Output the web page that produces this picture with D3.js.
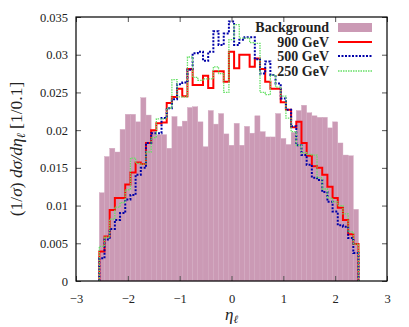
<!DOCTYPE html>
<html>
<head>
<meta charset="utf-8">
<script src="https://d3js.org/d3.v7.min.js"></script>
<style>
  body { margin: 0; background: #fff; }
  text { font-family: "Liberation Serif", "DejaVu Serif", serif; fill: #222; }
  .legend text { font-size: 14px; font-weight: bold; }
</style>
</head>
<body>
<div id="chart"></div>
<script>
// bin centres go from -2.5 to 2.4 in steps of 0.1 (boxes are 0.1 wide)
var binCenters = [
  -2.5, -2.4, -2.3, -2.2, -2.1, -2.0, -1.9, -1.8, -1.7, -1.6,
  -1.5, -1.4, -1.3, -1.2, -1.1, -1.0, -0.9, -0.8, -0.7, -0.6,
  -0.5, -0.4, -0.3, -0.2, -0.1, 0.0, 0.1, 0.2, 0.3, 0.4,
  0.5, 0.6, 0.7, 0.8, 0.9, 1.0, 1.1, 1.2, 1.3, 1.4,
  1.5, 1.6, 1.7, 1.8, 1.9, 2.0, 2.1, 2.2, 2.3, 2.4
];
var background = [
  0.0117, 0.0165, 0.0176, 0.0171, 0.0201, 0.0221, 0.0221, 0.0211, 0.0243, 0.0220,
  0.0200, 0.0194, 0.0194, 0.0176, 0.0218, 0.0205, 0.0212, 0.0230, 0.0231, 0.0211,
  0.0178, 0.0226, 0.0208, 0.0222, 0.0195, 0.0180, 0.0209, 0.0180, 0.0205, 0.0196,
  0.0219, 0.0198, 0.0191, 0.0191, 0.0222, 0.0189, 0.0181, 0.0197, 0.0226, 0.0233,
  0.0223, 0.0219, 0.0217, 0.0217, 0.0203, 0.0211, 0.0183, 0.0167, 0.0166, 0.0095
];
var gev900 = [
  0.0039, 0.0059, 0.0094, 0.0110, 0.0110, 0.0128, 0.0144, 0.0157, 0.0155, 0.0183,
  0.0200, 0.0209, 0.0210, 0.0236, 0.0244, 0.0255, 0.0245, 0.0281, 0.0260, 0.0260,
  0.0272, 0.0256, 0.0278, 0.0278, 0.0264, 0.0304, 0.0282, 0.0300, 0.0300, 0.0284,
  0.0295, 0.0281, 0.0264, 0.0255, 0.0255, 0.0237, 0.0227, 0.0204, 0.0211, 0.0183,
  0.0166, 0.0152, 0.0150, 0.0141, 0.0125, 0.0110, 0.0097, 0.0081, 0.0062, 0.0049
];
var gev500 = [
  0.0030, 0.0055, 0.0069, 0.0081, 0.0090, 0.0108, 0.0114, 0.0141, 0.0150, 0.0183,
  0.0196, 0.0196, 0.0216, 0.0229, 0.0241, 0.0261, 0.0263, 0.0280, 0.0302, 0.0304,
  0.0292, 0.0304, 0.0331, 0.0313, 0.0328, 0.0344, 0.0313, 0.0320, 0.0323, 0.0323,
  0.0294, 0.0275, 0.0291, 0.0273, 0.0262, 0.0242, 0.0227, 0.0205, 0.0180, 0.0167,
  0.0154, 0.0137, 0.0134, 0.0118, 0.0105, 0.0092, 0.0074, 0.0072, 0.0057, 0.0037
];
var gev250 = [
  0.0046, 0.0058, 0.0082, 0.0098, 0.0104, 0.0121, 0.0163, 0.0156, 0.0155, 0.0171,
  0.0190, 0.0215, 0.0215, 0.0229, 0.0267, 0.0244, 0.0244, 0.0297, 0.0270, 0.0266,
  0.0268, 0.0268, 0.0284, 0.0275, 0.0250, 0.0320, 0.0340, 0.0322, 0.0322, 0.0316,
  0.0315, 0.0250, 0.0247, 0.0273, 0.0257, 0.0245, 0.0216, 0.0198, 0.0180, 0.0170,
  0.0168, 0.0167, 0.0137, 0.0122, 0.0110, 0.0105, 0.0100, 0.0089, 0.0065, 0.0049
];
var xTicks = [-3, -2, -1, 0, 1, 2, 3];
var yTicks = [0, 0.005, 0.01, 0.015, 0.02, 0.025, 0.03, 0.035];
var seriesNames = ["Background", "900 GeV", "500 GeV", "250 GeV"];

var width = 409, height = 327;
var margin = { top: 17, right: 22, bottom: 46, left: 76 };
var binWidth = 0.1;

var svg = d3.select('#chart').append('svg')
  .attr('width', width)
  .attr('height', height);

var x = d3.scaleLinear().domain([-3, 3]).range([margin.left, width - margin.right]);
var y = d3.scaleLinear().domain([0, 0.035]).range([height - margin.bottom, margin.top]);

// background boxes
svg.append('g').selectAll('rect')
  .data(binCenters)
  .enter().append('rect')
  .attr('x', function(d) { return x(d - binWidth / 2); })
  .attr('width', function(d) { return x(d + binWidth / 2) - x(d - binWidth / 2); })
  .attr('y', function(d, i) { return y(background[i]); })
  .attr('height', function(d, i) { return y(0) - y(background[i]); })
  .attr('fill', '#cb9ab5')
  .attr('stroke', '#d3a9c0')
  .attr('stroke-width', 0.4);

// histogram step outline
function steps(vals) {
  var pts = [[binCenters[0] - binWidth / 2, 0]];
  binCenters.forEach(function(c, i) {
    pts.push([c - binWidth / 2, vals[i]]);
    pts.push([c + binWidth / 2, vals[i]]);
  });
  pts.push([binCenters[binCenters.length - 1] + binWidth / 2, 0]);
  return pts;
}
var line = d3.line()
  .x(function(d) { return x(d[0]); })
  .y(function(d) { return y(d[1]); });

var lines = [
  { vals: gev900, color: '#ff0000', width: 2, dash: null },
  { vals: gev500, color: '#0000a8', width: 2, dash: '2,1.5' },
  { vals: gev250, color: '#66e066', width: 1.3, dash: '1.5,1' }
];
lines.forEach(function(s) {
  svg.append('path')
    .attr('d', line(steps(s.vals)))
    .attr('fill', 'none')
    .attr('stroke', s.color)
    .attr('stroke-width', s.width)
    .attr('stroke-dasharray', s.dash);
});

// axes, ticks pointing inwards on all four sides
var fmt = function(d) { return d3.format('~g')(d); };
svg.append('g')
  .attr('transform', 'translate(0,' + y(0) + ')')
  .call(d3.axisBottom(x).tickValues(xTicks).tickSize(-5).tickPadding(13).tickFormat(d3.format('d')));
svg.append('g')
  .attr('transform', 'translate(0,' + y(0.035) + ')')
  .call(d3.axisTop(x).tickValues(xTicks).tickSize(-5).tickFormat(''));
svg.append('g')
  .attr('transform', 'translate(' + x(-3) + ',0)')
  .call(d3.axisLeft(y).tickValues(yTicks).tickSize(-5).tickPadding(8).tickFormat(fmt));
svg.append('g')
  .attr('transform', 'translate(' + x(3) + ',0)')
  .call(d3.axisRight(y).tickValues(yTicks).tickSize(-5).tickFormat(''));
svg.selectAll('.domain').remove();
svg.selectAll('.tick line').attr('stroke', '#555');
svg.selectAll('.tick text').style('font-family', '"Liberation Serif", serif').style('font-size', '12.5px').attr('fill', '#333');

svg.append('rect')
  .attr('x', x(-3)).attr('y', y(0.035))
  .attr('width', x(3) - x(-3)).attr('height', y(0) - y(0.035))
  .attr('fill', 'none').attr('stroke', '#000').attr('stroke-width', 1.2);

// axis titles
var xt = svg.append('text')
  .attr('x', x(0)).attr('y', 320)
  .attr('text-anchor', 'middle')
  .style('font-size', '17px');
xt.append('tspan').style('font-style', 'italic').text('η');
xt.append('tspan').attr('dy', 3).style('font-size', '11px').style('font-style', 'italic').text('ℓ');

var yt = svg.append('text')
  .attr('transform', 'translate(22,' + ((y(0) + y(0.035)) / 2) + ') rotate(-90)')
  .attr('text-anchor', 'middle')
  .style('font-size', '17.5px')
  .attr('fill', '#333');
yt.append('tspan').text('(1/');
yt.append('tspan').style('font-style', 'italic').text('σ');
yt.append('tspan').text(')  ');
yt.append('tspan').style('font-style', 'italic').text('dσ/dη');
yt.append('tspan').attr('dy', 3).style('font-size', '12px').style('font-style', 'italic').text('ℓ');
yt.append('tspan').attr('dy', -3).text(' [1/0.1]');

// legend
var legend = svg.append('g').attr('class', 'legend');
var legendY = [27, 42, 56, 71];
seriesNames.forEach(function(name, i) {
  legend.append('text')
    .attr('x', 329).attr('y', legendY[i] + 5)
    .attr('text-anchor', 'end')
    .text(name);
  if (i === 0) {
    legend.append('rect')
      .attr('x', 338).attr('y', legendY[i] - 4)
      .attr('width', 34).attr('height', 9)
      .attr('fill', '#cb9ab5');
  } else {
    var s = lines[i - 1];
    legend.append('line')
      .attr('x1', 338).attr('x2', 372)
      .attr('y1', legendY[i]).attr('y2', legendY[i])
      .attr('stroke', s.color)
      .attr('stroke-width', s.width)
      .attr('stroke-dasharray', s.dash);
  }
});
</script>
</body>
</html>
